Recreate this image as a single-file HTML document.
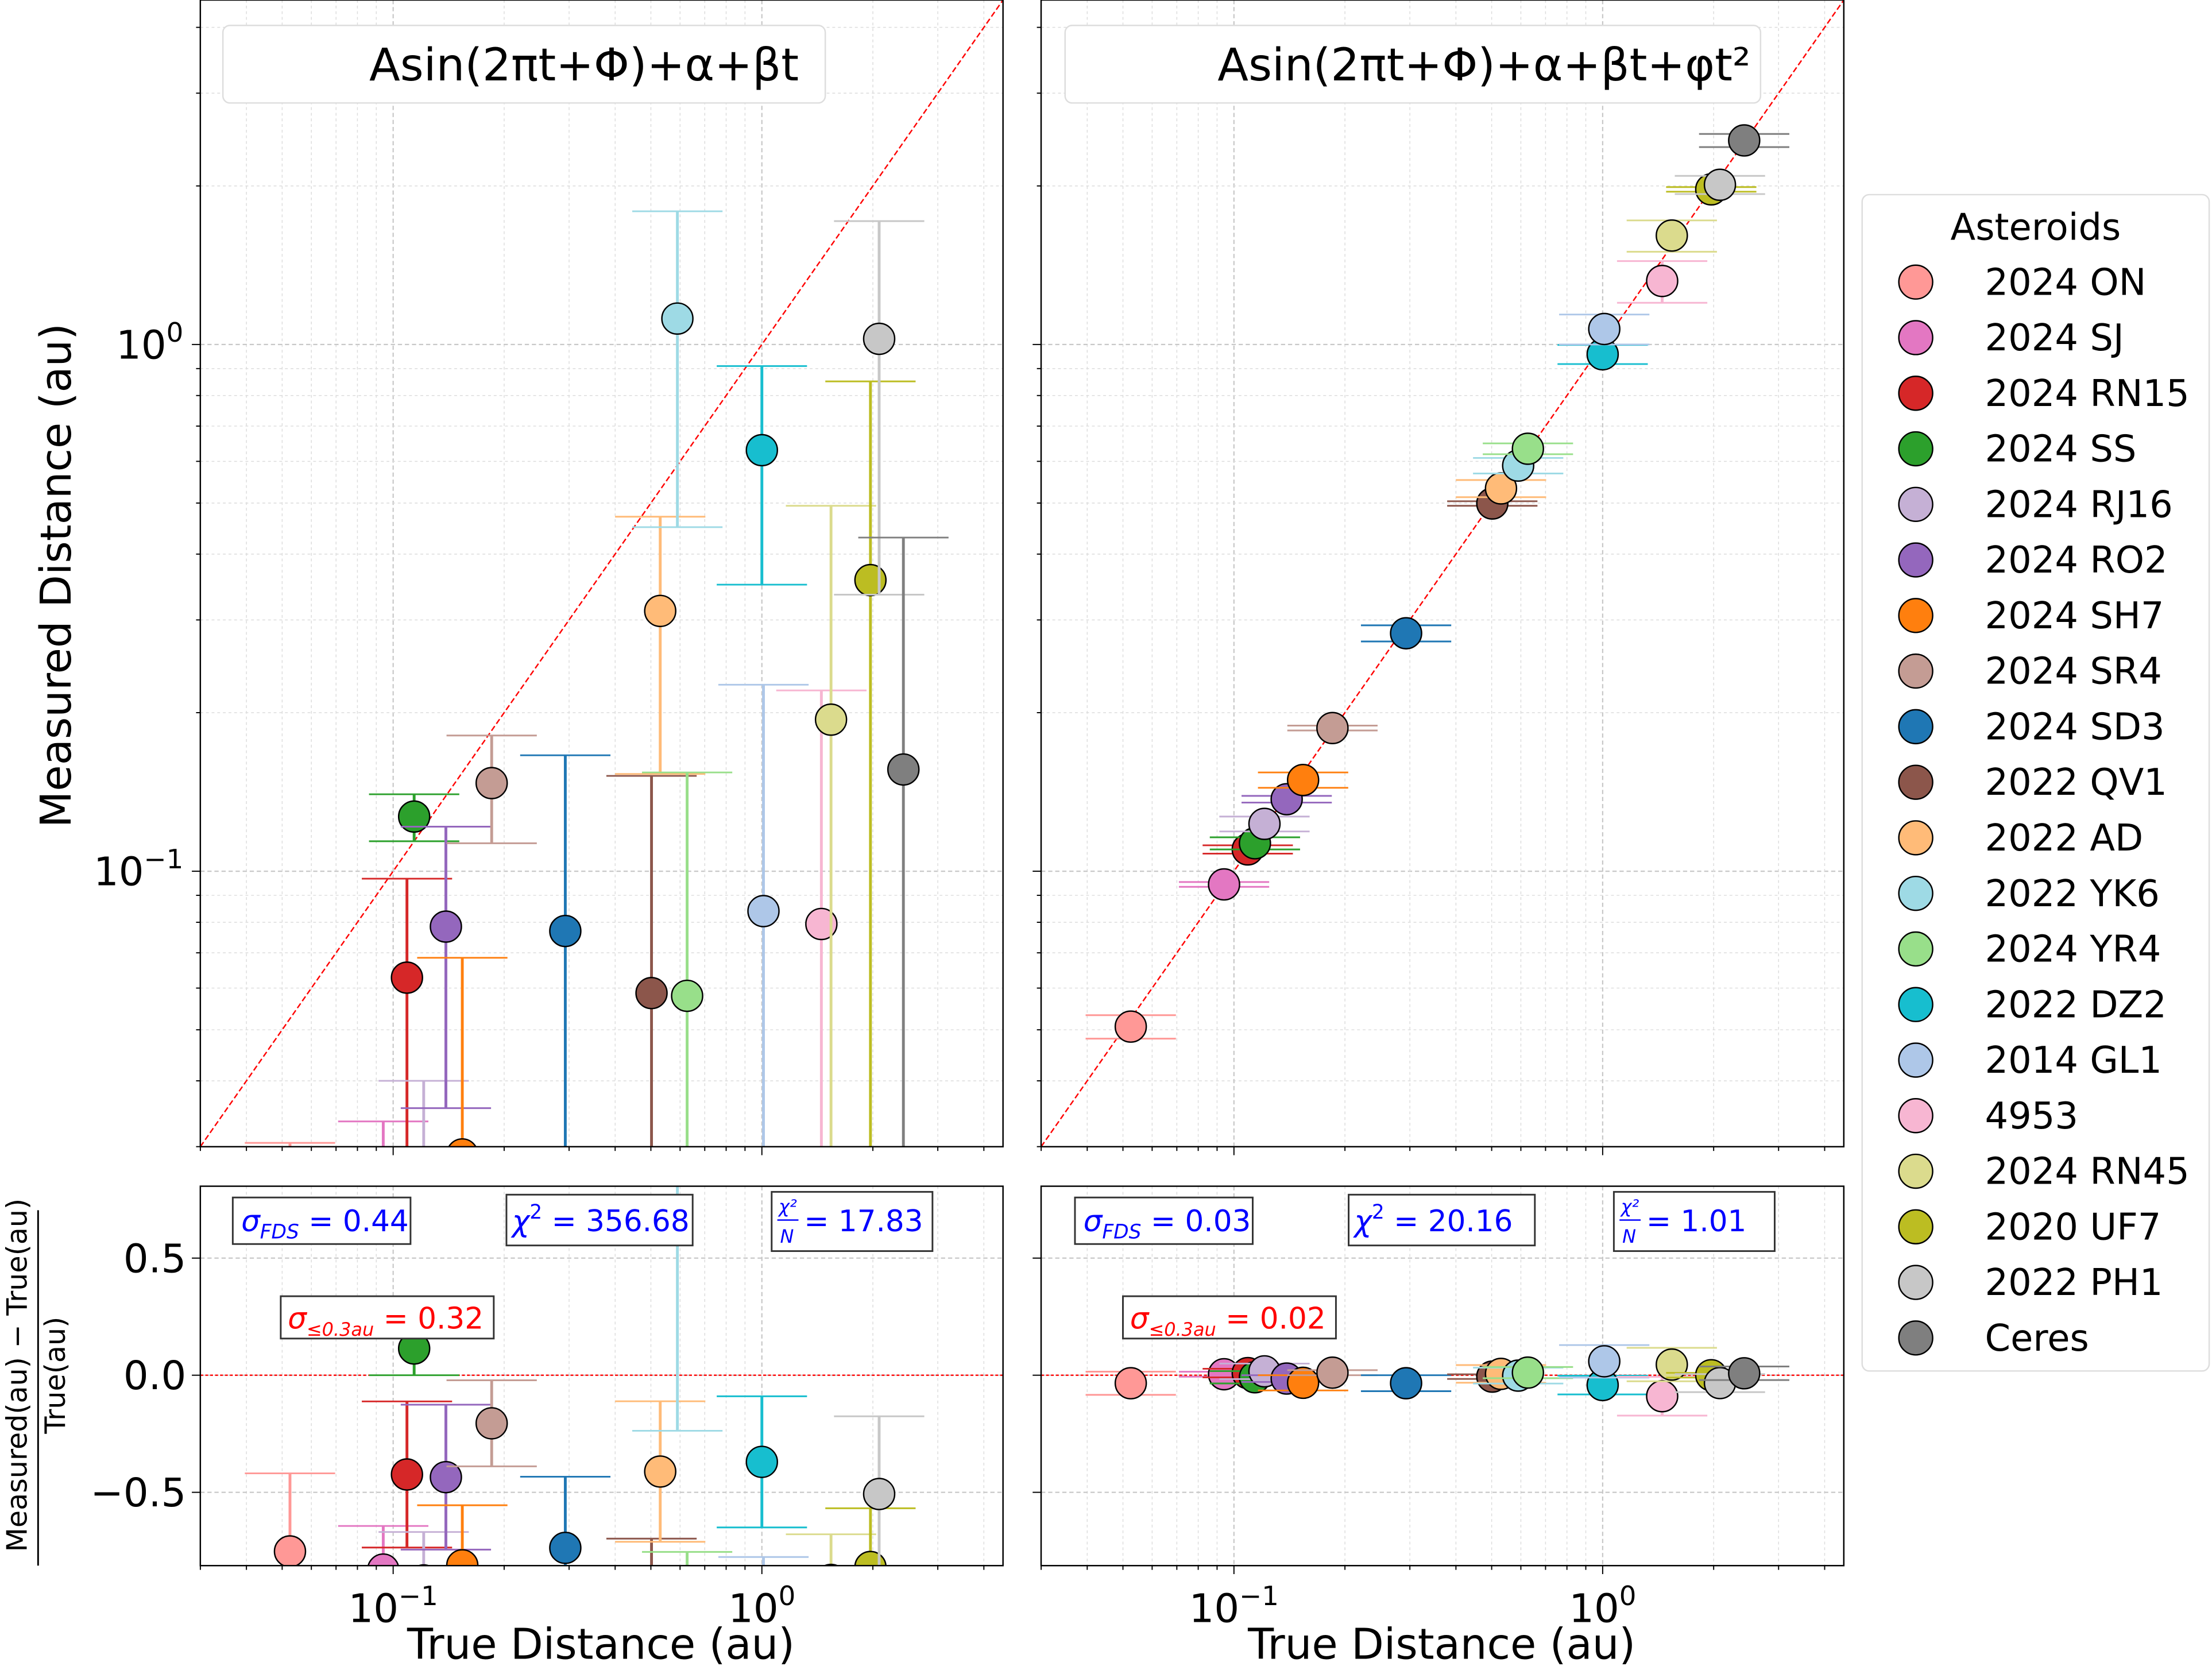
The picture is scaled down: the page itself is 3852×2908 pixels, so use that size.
<!DOCTYPE html>
<html><head><meta charset="utf-8"><style>
html,body{margin:0;padding:0;background:#fff;overflow:hidden}
svg{display:block;font-family:"DejaVu Sans","Liberation Sans",sans-serif}
</style></head><body>
<svg id="fig" width="3852" height="2908" viewBox="0 0 1568 1184" preserveAspectRatio="none" xmlns="http://www.w3.org/2000/svg">
<defs>
<clipPath id="cTL"><rect x="142" y="0" width="569" height="813"/></clipPath>
<clipPath id="cTR"><rect x="738" y="0" width="569" height="813"/></clipPath>
<clipPath id="cBL"><rect x="142" y="841" width="569" height="269"/></clipPath>
<clipPath id="cBR"><rect x="738" y="841" width="569" height="269"/></clipPath>
</defs>
<g id="layer"></g>
</svg>
<script>
const names=["2024 ON","2024 SJ","2024 RN15","2024 SS","2024 RJ16","2024 RO2","2024 SH7","2024 SR4","2024 SD3","2022 QV1","2022 AD","2022 YK6","2024 YR4","2022 DZ2","2014 GL1","4953","2024 RN45","2020 UF7","2022 PH1","Ceres"];
const colors=["#ff9896","#e377c2","#d62728","#2ca02c","#c5b0d5","#9467bd","#ff7f0e","#c49c94","#1f77b4","#8c564b","#ffbb78","#9edae5","#98df8a","#17becf","#aec7e8","#f7b6d2","#dbdb8d","#bcbd22","#c7c7c7","#7f7f7f"];
const trueDist=[0.0525,0.094,0.109,0.114,0.121,0.139,0.154,0.185,0.293,0.502,0.530,0.59,0.627,1.00,1.01,1.45,1.54,1.97,2.08,2.42];
const measLeft=[0.013,0.016,0.0628,0.127,0.015,0.0785,0.029,0.147,0.077,0.0587,0.312,1.12,0.058,0.630,0.084,0.0794,0.194,0.357,1.025,0.156];
const errLeft=[0.0175,0.0175,0.034,0.013,0.025,0.043,0.0395,0.034,0.089,0.093,0.159,0.67,0.096,0.28,0.142,0.141,0.30,0.494,0.69,0.274];
const measRight=[0.0507,0.0944,0.110,0.113,0.123,0.137,0.149,0.187,0.283,0.499,0.533,0.589,0.634,0.958,1.07,1.32,1.61,1.97,2.01,2.44];
const errRight=[0.0026,0.001,0.002,0.003,0.004,0.002,0.005,0.002,0.01,0.005,0.02,0.02,0.015,0.04,0.07,0.12,0.11,0.02,0.08,0.07];
const xTicks=[0.1,1];
const xTickLabels=["10","10"];
const xTickExps=["−1","0"];
const yTicksTop=[0.1,1];
const yTicksBottom=[0.5,0,-0.5];
const yTickLabelsBottom=["0.5","0.0","−0.5"];
const statsLeft=["0.44","356.68","17.83","0.32"];
const statsRight=["0.03","20.16","1.01","0.02"];

const NS="http://www.w3.org/2000/svg";
const layer=document.getElementById('layer');
function mk(tag,attrs,parent){const e=document.createElementNS(NS,tag);for(const k in attrs)e.setAttribute(k,attrs[k]);(parent||layer).appendChild(e);return e;}
const LMIN=-1.523,LMAX=0.654;
function xs(p){return v=>p.x0+(Math.log10(v)-LMIN)/(LMAX-LMIN)*(p.x1-p.x0);}
function ysLog(p){return v=>p.y1-(Math.log10(v)-LMIN)/(LMAX-LMIN)*(p.y1-p.y0);}
const RMIN=-0.813,RMAX=0.807;
function ysLin(p){return v=>p.y1-(v-RMIN)/(RMAX-RMIN)*(p.y1-p.y0);}
const panels={
 TL:{x0:142,x1:711,y0:0,y1:813,clip:'cTL'},
 TR:{x0:738,x1:1307,y0:0,y1:813,clip:'cTR'},
 BL:{x0:142,x1:711,y0:841,y1:1110,clip:'cBL'},
 BR:{x0:738,x1:1307,y0:841,y1:1110,clip:'cBR'}
};
function logVals(){const a=[];for(let d=-2;d<=0;d++)for(let k=1;k<=9;k++){const v=k*Math.pow(10,d);const l=Math.log10(v);if(l>LMIN&&l<LMAX)a.push(v);}return a;}

function drawPanel(key,isTop,meas,err){
 const p=panels[key];const X=xs(p);const Y=isTop?ysLog(p):ysLin(p);
 const g=mk('g',{'clip-path':'url(#'+p.clip+')'});
 
 
 logVals().forEach(v=>{const major=Math.abs(Math.log10(v)-Math.round(Math.log10(v)))<1e-9;
  const gl=mk('line',{x1:X(v),x2:X(v),y1:p.y0,y2:p.y1,stroke:major?'#c8c8c8':'#dcdcdc','stroke-width':major?0.9:0.6,'stroke-dasharray':major?'3,2':'2,2'},g);
  
  if(isTop){const hl=mk('line',{y1:Y(v),y2:Y(v),x1:p.x0,x2:p.x1,stroke:major?'#c8c8c8':'#dcdcdc','stroke-width':major?0.9:0.6,'stroke-dasharray':major?'3,2':'2,2'},g);
   }
 });
 if(!isTop){yTicksBottom.forEach(v=>{const hl=mk('line',{y1:Y(v),y2:Y(v),x1:p.x0,x2:p.x1,stroke:'#c8c8c8','stroke-width':0.9,'stroke-dasharray':'3,2'},g);
   });}
 if(isTop){const rl=mk('line',{x1:X(Math.pow(10,LMIN)),y1:Y(Math.pow(10,LMIN)),x2:X(Math.pow(10,LMAX)),y2:Y(Math.pow(10,LMAX)),stroke:'#f00','stroke-width':1,'stroke-dasharray':'4,2'},g);
  }
 else{const rl=mk('line',{x1:p.x0,x2:p.x1,y1:Y(0),y2:Y(0),stroke:'#f00','stroke-width':1,'stroke-dasharray':'2,1.5'},g);
  }
 for(let i=0;i<names.length;i++){
  const t=trueDist[i];let yv,e;
  if(isTop){yv=meas[i];e=err[i];}else{yv=meas[i]/t-1;e=err[i]/t;}
  const lo=isTop?Math.max(yv-e,1e-4):yv-e, hi=yv+e;
  const cx=X(t);
  const eg=mk('g',{},g);
  
  
  mk('line',{x1:cx,x2:cx,y1:Y(lo),y2:Y(hi),stroke:colors[i],'stroke-width':2},eg);
  mk('line',{x1:cx-32,x2:cx+32,y1:Y(hi),y2:Y(hi),stroke:colors[i],'stroke-width':1.2},eg);
  mk('line',{x1:cx-32,x2:cx+32,y1:Y(lo),y2:Y(lo),stroke:colors[i],'stroke-width':1.2},eg);
  const c=mk('circle',{cx:cx,cy:Y(yv),r:11,fill:colors[i],stroke:'#000','stroke-width':1},g);
  
  
 }
 const fr=mk('rect',{x:p.x0,y:p.y0,width:p.x1-p.x0,height:p.y1-p.y0,fill:'none',stroke:'#000','stroke-width':1});
 
 logVals().forEach(v=>{const major=Math.abs(Math.log10(v)-Math.round(Math.log10(v)))<1e-9;
  mk('line',{x1:X(v),x2:X(v),y1:p.y1,y2:p.y1+(major?6:3),stroke:'#000','stroke-width':0.8});
  if(isTop)mk('line',{x1:p.x0,x2:p.x0-(major?6:3),y1:Y(v),y2:Y(v),stroke:'#000','stroke-width':0.8});
 });
 if(!isTop)yTicksBottom.forEach(v=>mk('line',{x1:p.x0,x2:p.x0-6,y1:Y(v),y2:Y(v),stroke:'#000','stroke-width':0.8}));
 return {X,Y};
}
const tl=drawPanel('TL',true,measLeft,errLeft);
const tr=drawPanel('TR',true,measRight,errRight);
const bl=drawPanel('BL',false,measLeft,errLeft);
const br=drawPanel('BR',false,measRight,errRight);

function txt(s,attrs,name){const t=mk('text',attrs);t.textContent=s;return t;}
yTicksTop.forEach((v,i)=>{const t=mk('text',{x:130,y:tl.Y(v)+10,'text-anchor':'end','font-size':28});
 
 t.appendChild(document.createTextNode('10'));const s=mk('tspan',{'font-size':19,dy:-12},t);s.textContent=v===1?'0':'−1';});
yTicksBottom.forEach((v,i)=>txt(yTickLabelsBottom[i],{x:132,y:bl.Y(v)+10,'text-anchor':'end','font-size':28},'y-tick-label-bottom'));
[bl,br].forEach(ax=>{xTicks.forEach((v,i)=>{const t=mk('text',{x:ax.X(v),y:1150,'text-anchor':'middle','font-size':28});
 
 t.appendChild(document.createTextNode(xTickLabels[i]));const s=mk('tspan',{'font-size':19,dy:-12},t);s.textContent=xTickExps[i];});});
txt('True Distance (au)',{x:426,y:1176,'text-anchor':'middle','font-size':30},'x-axis-title-left');
txt('True Distance (au)',{x:1022,y:1176,'text-anchor':'middle','font-size':30},'x-axis-title-right');
txt('Measured Distance (au)',{x:0,y:0,'text-anchor':'middle','font-size':30,transform:'translate(50,408) rotate(-90)'},'y-axis-title');
txt('Measured(au) − True(au)',{x:0,y:0,'text-anchor':'middle','font-size':20,transform:'translate(19,975) rotate(-90)'},'residual-axis-numerator');
mk('line',{x1:27,x2:27,y1:858,y2:1110,stroke:'#000','stroke-width':1.2});
txt('True(au)',{x:0,y:0,'text-anchor':'middle','font-size':20,transform:'translate(46,975) rotate(-90)'},'residual-axis-denominator');
function box(x,y,w,h,name){const r=mk('rect',{x,y,width:w,height:h,rx:5,fill:'#fff',stroke:'#ddd','stroke-width':1});}
box(158,18,427,55,'model-legend-left');
txt('Asin(2πt+Φ)+α+βt',{x:414,y:57,'text-anchor':'middle','font-size':32},'model-label-left');
box(755,18,493,55,'model-legend-right');
txt('Asin(2πt+Φ)+α+βt+φt²',{x:1052,y:57,'text-anchor':'middle','font-size':32},'model-label-right');
function statBoxes(dx,vals,side){
 const sb=(x,y,w,h,n)=>{const r=mk('rect',{x:x+dx,y,width:w,height:h,fill:'#fff',stroke:'#333','stroke-width':1.2});};
 sb(165,849,126,33,'sigma-fds-box-'+side);
 let t=mk('text',{x:171+dx,y:873,'font-size':21,fill:'#00f'});
 let s=mk('tspan',{'font-style':'italic'},t);s.textContent='σ';s=mk('tspan',{'font-size':14,dy:5,'font-style':'italic'},t);s.textContent='FDS';s=mk('tspan',{dy:-5},t);s.textContent=' = '+vals[0];
 sb(359,847,132,36,'chi2-box-'+side);
 t=mk('text',{x:363+dx,y:873,'font-size':21,fill:'#00f'});
 s=mk('tspan',{'font-style':'italic'},t);s.textContent='χ';s=mk('tspan',{'font-size':14,dy:-9},t);s.textContent='2';s=mk('tspan',{dy:9},t);s.textContent=' = '+vals[1];
 sb(547,845,114,42,'chi2n-box-'+side);
 t=mk('text',{x:552+dx,y:860,'font-size':13,fill:'#00f','font-style':'italic'});t.textContent='χ²';
 mk('line',{x1:551+dx,x2:566+dx,y1:865,y2:865,stroke:'#00f','stroke-width':1});
 t=mk('text',{x:553+dx,y:881,'font-size':13,fill:'#00f','font-style':'italic'});t.textContent='N';
 txt('= '+vals[2],{x:570+dx,y:873,'font-size':21,fill:'#00f'},'chi2n-value-'+side);
 sb(199,919,151,30,'sigma-near-box-'+side);
 t=mk('text',{x:204+dx,y:942,'font-size':21,fill:'#f00'});
 s=mk('tspan',{'font-style':'italic'},t);s.textContent='σ';s=mk('tspan',{'font-size':13,dy:5,'font-style':'italic'},t);s.textContent='≤0.3au';s=mk('tspan',{dy:-5},t);s.textContent=' = '+vals[3];
}
statBoxes(0,statsLeft,'left');
statBoxes(597,statsRight,'right');
const lg=mk('g',{});
mk('rect',{x:1320,y:138,width:246,height:834,rx:5,fill:'#fff',stroke:'#ddd','stroke-width':1},lg);
const lt=mk('text',{x:1443,y:170,'text-anchor':'middle','font-size':26},lg);lt.textContent='Asteroids';

names.forEach((n,i)=>{const y=200+i*39.4;const e=mk('g',{},lg);
 
 mk('circle',{cx:1358,cy:y,r:12,fill:colors[i],stroke:'#000','stroke-width':1},e);
 const t=mk('text',{x:1407,y:y+9,'font-size':26},e);t.textContent=n;});
</script>
</body></html>
